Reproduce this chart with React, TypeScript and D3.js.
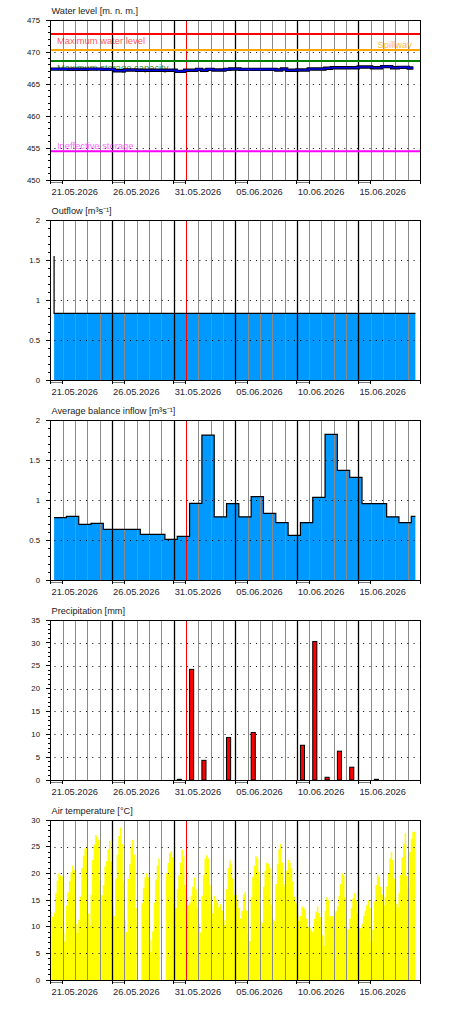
import * as d3 from 'd3';

const WIDTH = 450;
const HEIGHT = 1010;
const PANEL_HEIGHT = 200;
const MARGIN = { top: 20, right: 30, bottom: 20, left: 50.5 };
const PLOT_BOTTOM = PANEL_HEIGHT - MARGIN.bottom;
const FONT = "'Liberation Sans', Arial, sans-serif";

const parseTime = d3.timeParse('%Y-%m-%d %H:%M');
const formatDate = d3.timeFormat('%d.%m.%Y');
const t = (s: string) => parseTime(s) as Date;
const addHours = (d: Date, h: number) => new Date(d.getTime() + h * 3600000);

// time frame of all panels
const axisStart = t('2026-05-21 00:00');
const axisEnd = t('2026-06-20 00:00');
const dataEnd = t('2026-06-19 15:00');
const today = t('2026-06-01 00:00');

const panelTitles = [
  'Water level [m. n. m.]',
  'Outflow [m³s⁻¹]',
  'Average balance inflow [m³s⁻¹]',
  'Precipitation [mm]',
  'Air temperature [°C]',
];

// water level, time in days after 21.05.2026 00:00
const levelDays = [
  0, 1.5, 3, 4.2, 5.2, 6, 7, 10.2, 10.9, 11.86,
  12.26, 12.7, 13.2, 14.16, 14.56, 15.38, 18.3, 18.76, 19.17, 20,
  20.93, 22.28, 22.8, 24.99, 26.07, 26.88, 27.7, 28.24, 29.05, 29.46,
];
const levelValues = [
  467.33, 467.3, 467.32, 467.29, 467.08, 467.19, 467.14, 466.98, 467.14, 467.29,
  467.14, 467.29, 467.19, 467.29, 467.34, 467.29, 467.19, 467.34, 467.14, 467.19,
  467.34, 467.45, 467.53, 467.66, 467.55, 467.71, 467.55, 467.6, 467.5, 467.5,
];

const limitNames = ['Maximum water level', 'Spillway', 'Maximum storage capacity', 'Ineffective storage'];
const limitValues = [472.8, 470.3, 468.6, 454.5];
const limitColors = ['#ff0000', '#ffa500', '#008000', '#ff00ff'];
const limitTextOpacity = [0.7, 0.8, 0.85, 0.65];

const outflowTimes = ['2026-05-21 07:00', '2026-05-21 07:00'];
const outflowValues = [1.55, 0.834];

// daily balance values, starting 21.05.2026 07:00
const balanceStart = '2026-05-21 07:00';
const inflowValues = [
  0.78, 0.796, 0.696, 0.708, 0.633, 0.633, 0.633, 0.571, 0.571, 0.508,
  0.546, 0.958, 1.81, 0.79, 0.954, 0.79, 1.042, 0.833, 0.717, 0.558,
  0.717, 1.033, 1.82, 1.37, 1.283, 0.954, 0.954, 0.79, 0.717, 0.796,
];
const precipValues = [
  0, 0, 0, 0, 0, 0, 0, 0, 0, 0,
  0.15, 24.2, 4.3, 0, 9.3, 0, 10.4, 0, 0, 0,
  7.6, 30.3, 0.6, 6.3, 2.8, 0, 0.15, 0, 0, 0,
];

// air temperature, 3-hourly from 21.05.2026 00:00 (null = missing)
const tempStart = '2026-05-21 00:00';
const temperature: (number | null)[] = [
  12.8, 11.8, 12.6, 16.3, 18.6, 20.0, 19.6, 19.4,
  8.8, 7.2, 13.9, 16.4, 18.5, 20.2, 21.4, 20.6,
  10.5, 8.8, 11.3, 15.6, 21.0, 23.3, 24.6, 25.0,
  12.4, 10.2, 16.0, 22.5, 25.4, 27.2, 26.8, 26.3,
  18.7, 15.9, 17.8, 21.3, 22.3, 24.5, 26.1, 22.2,
  13.8, 11.9, 19.0, 23.5, 27.0, 28.6, 25.5, 18.4,
  11.3, 9.0, 19.0, 21.8, 25.0, 26.3, 23.5, 13.5,
  null, null, null, 14.4, 17.3, 19.2, 20.0, 19.2,
  7.5, 5.3, 9.1, 14.5, 18.8, 21.5, 22.8, null,
  null, null, null, 20.0, 22.0, 23.8, 24.2, 23.0,
  14.3, 13.5, 17.0, 19.6, 22.0, 24.4, 23.2, 17.8,
  15.3, 14.0, 14.5, 15.8, 17.5, 19.2, 17.0, 13.6,
  10.5, 8.9, 15.8, 19.7, 22.8, 23.4, 22.8, 17.8,
  14.2, 12.5, 15.8, 15.0, 14.4, 13.6, 14.2, 13.0,
  11.3, 10.3, 17.0, 21.0, 22.5, 21.8, 19.0, 16.0,
  16.0, 15.0, 13.5, 11.5, 13.0, 16.0, 16.5, 13.0,
  8.8, 7.3, 15.5, 19.3, 21.4, 23.2, 22.8, 20.3,
  11.1, 10.8, 17.5, 20.5, 22.0, 21.8, 21.0, 14.1,
  11.4, 11.1, 18.0, 21.8, 24.5, 25.5, 22.0, 18.0,
  17.5, 20.5, 22.5, 22.0, 21.0, 18.5, 15.6, 14.5,
  12.2, 11.1, 12.0, 13.8, 13.5, 13.2, 11.5, 10.0,
  9.7, 9.3, 9.0, 11.5, 12.8, 13.8, 12.5, 11.8,
  8.4, 6.4, 13.0, 15.5, 15.0, 12.0, 11.9, 12.0,
  12.8, 12.9, 13.8, 15.8, 18.0, 20.0, 19.5, 15.5,
  10.0, 9.5, 11.5, 13.5, 15.3, 16.3, 15.0, 12.5,
  9.8, 9.7, 10.6, 12.0, 13.0, 14.0, 15.0, 13.5,
  7.2, 9.4, 14.7, 17.8, 19.8, 19.3, 17.5, 16.0,
  14.0, 15.5, 17.5, 20.0, 22.8, 24.0, 22.5, 19.0,
  14.3, 13.6, 16.3, 19.7, 23.0, 25.5, 27.5, 19.5,
  17.5, 24.0, 26.5, 27.8, 27.8,
];

const x = d3
  .scaleTime()
  .domain([axisStart, axisEnd])
  .range([MARGIN.left, WIDTH - MARGIN.right]);
const days = d3.timeDay.range(axisStart, axisEnd);
const todayIndex = Math.round((today.getTime() - axisStart.getTime()) / 86400000);

type Pt = { t: Date; v: number | null };

// every value holds until the next time (or the end), drawn as flat steps
const steps = (times: Date[], values: (number | null)[], end: Date): Pt[] => {
  const pts: Pt[] = [];
  values.forEach((v, i) => {
    const next = i < values.length - 1 ? times[i + 1] : end;
    pts.push({ t: times[i], v }, { t: next, v });
  });
  return pts;
};

const dailyTimes = (start: string, n: number) =>
  d3.range(n).map((i) => addHours(t(start), 24 * i));

const Panel = ({ index, domain, major, minor, draw }: any) => {
  const y = d3.scaleLinear().domain(domain).range([PLOT_BOTTOM, MARGIN.top]);
  const nMajor = Math.round((domain[1] - domain[0]) / major);
  const nMinor = Math.round((domain[1] - domain[0]) / minor);
  const majors = d3.range(nMajor + 1).map((i) => domain[0] + i * major);
  const minors = d3.range(nMinor + 1).map((i) => domain[0] + i * minor);
  const fmt = d3.format('~g');
  const { back, front } = draw(y);
  const left = MARGIN.left;
  const right = WIDTH - MARGIN.right;

  const gridLines = days.map((d, i) => {
    if (i === 0) return null;
    const isFifth = i % 5 === 0;
    const color = i === todayIndex ? '#ff0000' : isFifth ? '#000' : '#8a8a8a';
    return (
      <line
        key={i}
        x1={Math.round(x(d)) + 0.5}
        x2={Math.round(x(d)) + 0.5}
        y1={MARGIN.top}
        y2={PLOT_BOTTOM}
        stroke={color}
        strokeWidth={isFifth ? 1.3 : 1}
      />
    );
  });

  return (
    <g transform={`translate(0,${index * PANEL_HEIGHT})`}>
      <text x={51.5} y={14} fontSize={9.2} fill="#1a1a1a" fontFamily={FONT}>
        {panelTitles[index]}
      </text>
      {back}
      {gridLines}
      {majors.slice(1, -1).map((v) => (
        <line
          key={v}
          x1={left + 4}
          x2={right}
          y1={Math.round(y(v)) + 0.5}
          y2={Math.round(y(v)) + 0.5}
          stroke="#000"
          strokeDasharray="1 5.3"
        />
      ))}
      {front}
      <rect
        x={left}
        y={MARGIN.top}
        width={right - left}
        height={PLOT_BOTTOM - MARGIN.top}
        fill="none"
        stroke="#000"
        shapeRendering="crispEdges"
      />
      {minors.map((v, i) => (
        <line key={i} x1={left - 3} x2={left} y1={y(v)} y2={y(v)} stroke="#000" shapeRendering="crispEdges" />
      ))}
      {majors.map((v) => (
        <g key={v}>
          <line x1={left - 5} x2={left} y1={y(v)} y2={y(v)} stroke="#000" shapeRendering="crispEdges" />
          <text
            x={40}
            y={y(v)}
            dy="0.35em"
            textAnchor="end"
            fontSize={7.8}
            fill="#111"
            fontFamily={FONT}
          >
            {fmt(v)}
          </text>
        </g>
      ))}
      {days
        .filter((_, i) => i % 5 === 0)
        .map((d) => {
          const nextDay = d3.timeDay.offset(d, 1);
          return (
            <g key={d.getTime()}>
              <line x1={x(d)} x2={x(nextDay)} y1={PLOT_BOTTOM + 2.5} y2={PLOT_BOTTOM + 2.5} stroke="#808080" shapeRendering="crispEdges" />
              <line x1={x(d)} x2={x(d)} y1={PLOT_BOTTOM} y2={PLOT_BOTTOM + 4} stroke="#000" shapeRendering="crispEdges" />
              <line x1={x(nextDay)} x2={x(nextDay)} y1={PLOT_BOTTOM} y2={PLOT_BOTTOM + 4} stroke="#000" shapeRendering="crispEdges" />
              <text x={x(d) + 1} y={PLOT_BOTTOM + 15} fontSize={9.3} fill="#1d2433" fontFamily={FONT}>
                {formatDate(d)}
              </text>
            </g>
          );
        })}
      <line x1={right} x2={right} y1={PLOT_BOTTOM} y2={PLOT_BOTTOM + 4} stroke="#000" shapeRendering="crispEdges" />
    </g>
  );
};

const stepArea = (y: any, pts: Pt[]) =>
  d3
    .area<Pt>()
    .defined((p) => p.v !== null)
    .x((p) => x(p.t))
    .y0(y.range()[0])
    .y1((p) => y(p.v as number))(pts) || '';

const stepLine = (y: any, pts: Pt[]) =>
  d3
    .line<Pt>()
    .defined((p) => p.v !== null)
    .x((p) => x(p.t))
    .y((p) => y(p.v as number))(pts) || '';

const App = () => {
  const levelPts = levelDays.map((d, i) => ({ t: addHours(axisStart, d * 24), v: levelValues[i] }));
  const outflowPts = steps(outflowTimes.map(t), outflowValues, dataEnd);
  const inflowPts = steps(dailyTimes(balanceStart, inflowValues.length), inflowValues, dataEnd);
  const precipTimes = dailyTimes(balanceStart, precipValues.length);
  const tempTimes = d3.range(temperature.length).map((i) => addHours(t(tempStart), 3 * i));
  const tempPts = steps(tempTimes, temperature, dataEnd);

  const drawLevel = (y: any) => {
    const path = d3
      .line<Pt>()
      .curve(d3.curveStepAfter)
      .x((p) => x(p.t))
      .y((p) => y(p.v as number))(levelPts) || '';
    const right = WIDTH - MARGIN.right;
    return {
      front: (
        <g>
          {limitValues.map((v, i) => (
            <line key={i} x1={MARGIN.left} x2={right} y1={y(v)} y2={y(v)} stroke={limitColors[i]} strokeWidth={2} />
          ))}
          {limitNames.map((name, i) => {
            const below = i === 0 || i === 2;
            const atRight = i === 1;
            return (
              <text
                key={name}
                x={atRight ? 412 : 57}
                y={y(limitValues[i]) + (below ? 10 : -2.5)}
                textAnchor={atRight ? 'end' : 'start'}
                fontSize={9.4}
                fill={limitColors[i]}
                fillOpacity={limitTextOpacity[i]}
                fontFamily={FONT}
              >
                {name}
              </text>
            );
          })}
          <path d={path} fill="none" stroke="#000" strokeWidth={3.4} />
          <path d={path} fill="none" stroke="#0000ee" strokeWidth={1.6} />
        </g>
      ),
    };
  };

  const drawOutflow = (y: any) => ({
    back: <path d={stepArea(y, outflowPts)} fill="#0099ff" />,
    front: <path d={stepLine(y, outflowPts)} fill="none" stroke="#000" strokeWidth={1.2} />,
  });

  const drawInflow = (y: any) => ({
    back: <path d={stepArea(y, inflowPts)} fill="#0099ff" />,
    front: <path d={stepLine(y, inflowPts)} fill="none" stroke="#000" strokeWidth={1.2} />,
  });

  const drawPrecip = (y: any) => ({
    front: (
      <g>
        {precipValues.map((v, i) =>
          v > 0 ? (
            <rect
              key={i}
              x={x(precipTimes[i])}
              y={y(v)}
              width={x(addHours(precipTimes[i], 8)) - x(precipTimes[i])}
              height={y(0) - y(v)}
              fill="#ff0000"
              stroke="#000"
              strokeWidth={1}
            />
          ) : null
        )}
      </g>
    ),
  });

  const drawTemp = (y: any) => ({
    back: <path d={stepArea(y, tempPts)} fill="#ffff00" />,
  });

  return (
    <svg
      width={WIDTH}
      height={HEIGHT}
      style={{ position: 'absolute', left: 0, top: 0, background: '#fff' }}
    >
      <Panel index={0} domain={[450, 475]} major={5} minor={1} draw={drawLevel} />
      <Panel index={1} domain={[0, 2]} major={0.5} minor={0.1} draw={drawOutflow} />
      <Panel index={2} domain={[0, 2]} major={0.5} minor={0.1} draw={drawInflow} />
      <Panel index={3} domain={[0, 35]} major={5} minor={1} draw={drawPrecip} />
      <Panel index={4} domain={[0, 30]} major={5} minor={1} draw={drawTemp} />
    </svg>
  );
};

export default App;
